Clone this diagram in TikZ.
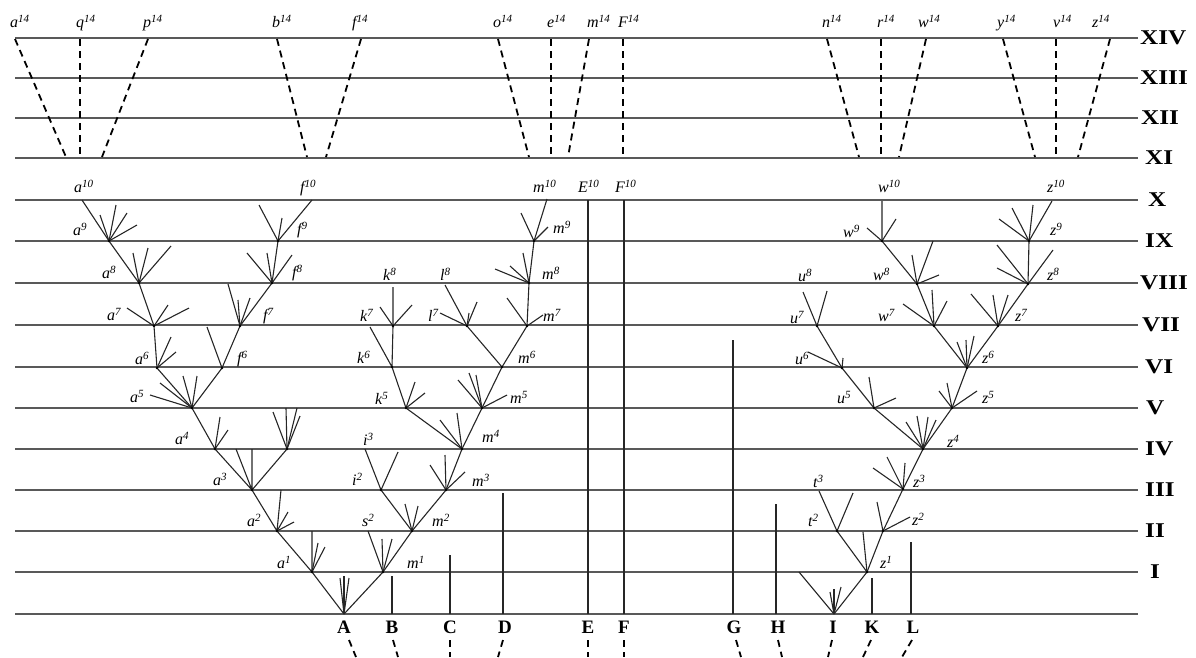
\documentclass[tikz,border=0pt]{standalone}
\usepackage{fontspec}
\usepackage{graphicx}
\setmainfont{Liberation Serif}
\newcounter{twc}
\newcommand\tw[2]{\stepcounter{twc}\coordinate (tw\arabic{twc}) at (#2);\draw[br] (#1) -- (tw\arabic{twc});}
\newcommand\tws[2]{\foreach \xx/\yy in {#2}{\tw{#1}{\xx,\yy}}}
\newcommand\slab[2]{#1\raisebox{5pt}{\fontsize{11}{12}\selectfont #2}}
\begin{document}
\begin{tikzpicture}[x=1pt,y=-1pt,
 hl/.style={line width=1.4pt,black!65},
 br/.style={line width=1.1pt,black!85},
 vl/.style={line width=1.3pt,black!85},
 dl/.style={line width=1.8pt,dash pattern=on 7pt off 5pt,black},
 lab/.style={anchor=base west,inner sep=0pt,font=\fontsize{16}{18}\selectfont\itshape},
 rom/.style={anchor=west,inner sep=0pt,font=\fontsize{21}{22}\selectfont\bfseries},
 sp/.style={anchor=base,inner sep=0pt,font=\fontsize{19}{20}\selectfont\bfseries}]
\useasboundingbox (0,0) rectangle (1196,657);
% horizontal lines and roman numerals
\foreach \yy/\nm/\xr in {38/XIV/1140,78/XIII/1140,118/XII/1141,158/XI/1145,200/X/1148,241/IX/1145,283/VIII/1140,325/VII/1142,367/VI/1145,408/V/1146,449/IV/1145,490/III/1145,531/II/1145,572/I/1150}{
  \coordinate (hL\nm) at (15,\yy); \coordinate (hR\nm) at (1138,\yy);
  \draw[hl] (hL\nm) -- (hR\nm);
  \node[rom] (r\nm) at (\xr,\yy) {\scalebox{1.2}[1]{\nm}};
}
\coordinate (hL0) at (15,614); \coordinate (hR0) at (1138,614);
\draw[hl] (hL0) -- (hR0);
% top dashed lines
\foreach \i/\xa/\xb in {1/15/66,2/80/80,3/148/102,4/277/307,5/361/326,6/498/529,7/551/551,8/589/568,9/623/623,10/827/859,11/881/881,12/926/899,13/1003/1035,14/1056/1056,15/1110/1078}{
  \coordinate (dt\i) at (\xa,39); \coordinate (db\i) at (\xb,157);
  \draw[dl] (dt\i) -- (db\i);
}
\foreach \x/\l in {10/a,76/q,143/p,272/b,352/f,493/o,547/e,587/m,618/F,822/n,877/r,918/w,997/y,1053/v,1092/z}{
  \node[lab] (t\l) at (\x,27) {\slab{\l}{14}};
}
\foreach \x/\l in {74/a,300/f,533/m,578/E,615/F,878/w,1047/z}{
  \node[lab] (x\l) at (\x,192) {\slab{\l}{10}};
}
% bottom letters and dashed stubs
\foreach \x/\l/\xa/\xb in {344/A/349/356,392/B/393/398,450/C/450/450,505/D/503/498,588/E/588/588,624/F/624/624,734/G/736/741,778/H/778/782,833/I/832/828,872/K/871/863,913/L/912/902}{
  \node[sp] (b\l) at (\x,633) {\l};
  \coordinate (ut\l) at (\xa,640); \coordinate (ub\l) at (\xb,657);
  \draw[dl] (ut\l) -- (ub\l);
}
% left tree nodes
\coordinate (A) at (344,614);
\coordinate (a1) at (312,572);
\coordinate (m1) at (383,572);
\coordinate (a2) at (277,531);
\coordinate (a2v) at (312,531);
\coordinate (s2) at (368,531);
\coordinate (m2) at (412,531);
\coordinate (a3) at (252,490);
\coordinate (a3b) at (281,490);
\coordinate (i2) at (381,490);
\coordinate (m3) at (446,490);
\coordinate (a4) at (215,449);
\coordinate (a4b) at (236,449);
\coordinate (a4c) at (252,449);
\coordinate (n4) at (287,449);
\coordinate (i3) at (365,449);
\coordinate (i3b) at (398,452);
\coordinate (m4) at (462,449);
\coordinate (a5) at (192,408);
\coordinate (k5) at (406,408);
\coordinate (m5) at (482,408);
\coordinate (a6) at (157,368);
\coordinate (f6) at (222,368);
\coordinate (k6) at (392,367);
\coordinate (m6) at (502,367);
\coordinate (a7) at (154,326);
\coordinate (f7) at (240,326);
\coordinate (k7) at (370,327);
\coordinate (kn7) at (393,326);
\coordinate (ln7) at (467,326);
\coordinate (mn7) at (527,326);
\coordinate (a8) at (139,283);
\coordinate (f8) at (272,283);
\coordinate (k8) at (393,287);
\coordinate (l8) at (445,285);
\coordinate (m8) at (529,283);
\coordinate (a9) at (109,241);
\coordinate (f9) at (278,241);
\coordinate (m9) at (534,241);
\coordinate (a10) at (82,200);
\coordinate (f10) at (312,200);
\coordinate (m10) at (547,199);
\draw[br] (A)--(a1) (A)--(m1) (a1)--(a2) (a1)--(a2v) (m1)--(s2) (m1)--(m2)
 (a2)--(a3) (a2)--(a3b) (m2)--(i2) (m2)--(m3) (a3)--(a4) (a3)--(a4b) (a3)--(a4c) (a3)--(n4)
 (i2)--(i3) (i2)--(i3b) (m3)--(m4) (a4)--(a5) (m4)--(k5) (m4)--(m5) (a5)--(a6) (a5)--(f6)
 (k5)--(k6) (m5)--(m6) (a6)--(a7) (f6)--(f7) (k6)--(k7) (k6)--(kn7) (m6)--(ln7) (m6)--(mn7)
 (a7)--(a8) (f7)--(f8) (kn7)--(k8) (ln7)--(l8) (mn7)--(m8) (a8)--(a9) (f8)--(f9) (m8)--(m9)
 (a9)--(a10) (f9)--(f10) (m9)--(m10);
\tws{A}{340/578,344/576,349/578}
\tws{a1}{318/543,325/547}
\tws{a2}{288/512,294/522}
\tws{m1}{382/539,392/539}
\tws{n4}{273/412,286/408,297/408,300/416}
\tws{a4}{220/417,228/430}
\tws{a5}{150/395,160/383,183/376,197/376}
\tws{a6}{171/337,176/352}
\tws{a7}{127/308,168/305,189/308}
\tws{a8}{133/253,148/248,171/246}
\tws{a9}{100/215,116/205,127/213,137/225}
\tws{f6}{207/327}
\tws{f7}{228/284,238/300,250/298}
\tws{f8}{247/253,267/253,292/255}
\tws{f9}{259/205,282/218}
\tws{m2}{405/504,418/506}
\tws{m3}{430/465,445/455,465/472}
\tws{m4}{440/420,457/413}
\tws{k5}{415/382,425/393}
\tws{kn7}{380/307,412/305}
\tws{m5}{458/380,469/373,476/375,507/395}
\tws{ln7}{440/313,469/313,477/302}
\tws{mn7}{507/298,543/315}
\tws{m8}{495/269,510/266,523/253}
\tws{m9}{521/213,548/227}
% single lines
\foreach \l/\x/\yt in {B/392/576,C/450/555,D/503/493,E/588/200,F/624/200,G/733/340,H/776/504,K/872/578,L/911/542}{
  \coordinate (s\l0) at (\x,614); \coordinate (s\l1) at (\x,\yt);
  \draw[br] (s\l0) -- (s\l1);
}
% right tree nodes
\coordinate (I) at (834,614);
\coordinate (i1) at (799,572);
\coordinate (z1) at (867,572);
\coordinate (t2) at (837,531);
\coordinate (z2) at (883,531);
\coordinate (t3) at (819,491);
\coordinate (t3b) at (853,493);
\coordinate (z3) at (903,489);
\coordinate (z4) at (923,449);
\coordinate (u5) at (874,408);
\coordinate (z5) at (952,408);
\coordinate (u6) at (842,368);
\coordinate (z6) at (967,368);
\coordinate (u7) at (817,326);
\coordinate (w7) at (934,326);
\coordinate (z7) at (998,326);
\coordinate (u8) at (803,292);
\coordinate (u8b) at (827,291);
\coordinate (w8) at (917,284);
\coordinate (z8) at (1028,284);
\coordinate (w9) at (882,241);
\coordinate (z9) at (1029,241);
\coordinate (w10) at (882,201);
\coordinate (z10) at (1052,201);
\draw[br] (I)--(i1) (I)--(z1) (z1)--(t2) (z1)--(z2) (t2)--(t3) (t2)--(t3b) (z2)--(z3) (z3)--(z4)
 (z4)--(u5) (z4)--(z5) (u5)--(u6) (u6)--(u7) (u7)--(u8) (u7)--(u8b) (z5)--(z6) (z6)--(w7) (z6)--(z7)
 (w7)--(w8) (w8)--(w9) (w9)--(w10) (z7)--(z8) (z8)--(z9) (z9)--(z10);
\tws{I}{830/592,834/589,841/587}
\tws{z1}{863/532}
\tws{z2}{877/502,910/517}
\tws{z3}{873/468,887/457,905/463}
\tws{z4}{906/422,917/416,928/417,936/420}
\tws{u5}{869/377,896/398}
\tws{u6}{808/352,843/358}
\tws{z5}{939/391,947/383,977/391}
\tws{z6}{957/342,966/340,974/336}
\tws{w7}{903/304,932/290,947/301}
\tws{w8}{912/255,933/241,939/275}
\tws{w9}{867/228,896/219}
\tws{z7}{971/294,993/295,1008/295}
\tws{z8}{997/245,997/268,1053/250}
\tws{z9}{999/219,1012/208,1033/205}
% dots at branching points
\foreach \c in {a1,m1,a2,m2,a3,i2,m3,a4,n4,m4,a5,k5,m5,a6,f6,k6,m6,a7,f7,kn7,ln7,mn7,a8,f8,m8,a9,f9,m9,z1,t2,z2,z3,z4,u5,z5,u6,z6,u7,w7,z7,w8,z8,w9,z9}{
  \fill[black] (\c) circle (1.3pt);
}
% labels
\foreach \x/\y/\l/\s in {73/235/a/9,297/234/f/9,102/278/a/8,292/277/f/8,107/320/a/7,263/320/f/7,135/364/a/6,237/363/f/6,130/402/a/5,175/444/a/4,213/485/a/3,247/526/a/2,277/568/a/1,363/445/i/3,352/485/i/2,362/526/s/2,407/568/m/1,375/404/k/5,383/280/k/8,440/280/l/8,360/321/k/7,428/321/l/7,357/363/k/6,518/363/m/6,510/403/m/5,482/442/m/4,472/486/m/3,432/526/m/2,553/233/m/9,542/279/m/8,543/321/m/7,798/281/u/8,843/237/w/9,873/280/w/8,790/323/u/7,878/321/w/7,795/364/u/6,982/363/z/6,837/403/u/5,982/403/z/5,1015/321/z/7,1047/280/z/8,1050/235/z/9,947/447/z/4,813/487/t/3,913/487/z/3,808/526/t/2,912/525/z/2,880/568/z/1}{
  \node[lab] (l\l\s) at (\x,\y) {\slab{\l}{\s}};
}
\end{tikzpicture}
\end{document}
